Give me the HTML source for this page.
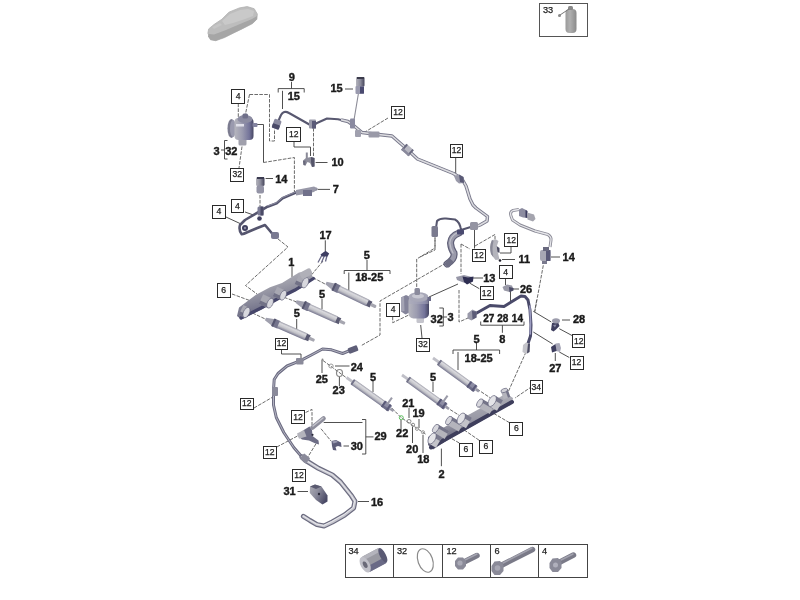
<!DOCTYPE html>
<html><head><meta charset="utf-8"><style>
html,body{margin:0;padding:0;background:#fff;}
svg{display:block;filter:blur(0.4px);}
.lb{font-family:"Liberation Sans",sans-serif;font-weight:bold;font-size:11px;fill:#1a1a1a;stroke:#1a1a1a;stroke-width:0.4;text-anchor:middle;}
.bt{font-family:"Liberation Sans",sans-serif;font-size:8.6px;fill:#222;stroke:#222;stroke-width:0.25;text-anchor:middle;}
.bx{fill:#fff;stroke:#2a2a2a;stroke-width:1;}
.ld{fill:none;stroke:#3c3c3c;stroke-width:0.9;}
.dl{fill:none;stroke:#5a5a5a;stroke-width:0.9;stroke-dasharray:3.6 1.3;}
</style></head><body>
<svg width="800" height="600" viewBox="0 0 800 600">
<defs>
 <linearGradient id="gcar" x1="0" y1="0" x2="0" y2="1">
  <stop offset="0" stop-color="#d2d2d2"/><stop offset="0.6" stop-color="#bdbdbd"/><stop offset="1" stop-color="#9a9a9a"/>
 </linearGradient>
 <linearGradient id="ginj" x1="0" y1="0" x2="0" y2="1">
  <stop offset="0" stop-color="#a0a0ac"/><stop offset="0.25" stop-color="#dadade"/><stop offset="0.6" stop-color="#c2c2c8"/><stop offset="1" stop-color="#76768e"/>
 </linearGradient>
 <linearGradient id="grail1" x1="0" y1="0" x2="0.4" y2="1">
  <stop offset="0" stop-color="#c4c4ca"/><stop offset="0.45" stop-color="#9c9ca8"/><stop offset="1" stop-color="#5a5a78"/>
 </linearGradient>
 <linearGradient id="grail2" x1="0" y1="0" x2="0.3" y2="1">
  <stop offset="0" stop-color="#c0c0c6"/><stop offset="0.55" stop-color="#9a9aa6"/><stop offset="1" stop-color="#4a4a66"/>
 </linearGradient>
 <linearGradient id="grail" x1="0" y1="0" x2="0" y2="1">
  <stop offset="0" stop-color="#b4b4b8"/><stop offset="0.5" stop-color="#8e8e98"/><stop offset="1" stop-color="#4e4e68"/>
 </linearGradient>
 <linearGradient id="gpump" x1="0" y1="0" x2="1" y2="0">
  <stop offset="0" stop-color="#9a9aa6"/><stop offset="0.4" stop-color="#b8b8c4"/><stop offset="1" stop-color="#5a5a80"/>
 </linearGradient>
 <linearGradient id="gcan" x1="0" y1="0" x2="1" y2="0">
  <stop offset="0" stop-color="#9a9a9a"/><stop offset="0.4" stop-color="#b0b0b0"/><stop offset="1" stop-color="#8a8a8a"/>
 </linearGradient>
</defs>
<!-- car -->
<path d="M207.9,33.2 L208.7,28.9 L214,24.5 L221.9,19.2 L228.9,12.2 L239.4,7.9 L247.2,6.6 L254.2,8.7 L257.3,14 L256.9,19.2 L252.5,23.6 L242,28.9 L233.2,33.2 L224.5,37.6 L215.7,40.7 L210.5,39.8 Z" fill="#bdbdbd" stroke="#b0b0b0" stroke-width="0.8" stroke-linejoin="round"/>
<path d="M208.5,34 L214,34.5 L226,30 L240,24 L252,19 L257,16 L256.9,19.2 L252.5,23.6 L242,28.9 L233.2,33.2 L224.5,37.6 L215.7,40.7 L210.5,39.8 L208,36.7 Z" fill="#a6a6a6"/>
<path d="M222,21 L230,14 L240,10 L248,9 L254,11 L253,16 L245,19 L233,23 L225,25 Z" fill="#c9c9c9"/>
<path d="M212,27 L220,23 L222,25 L214,29 Z" fill="#c6c6c6"/>
<!-- box 33 -->
<rect x="539.5" y="3.5" width="48" height="33" fill="#fff" stroke="#555" stroke-width="1"/>
<text x="543" y="12.6" style="font-family:'Liberation Sans',sans-serif;font-size:9.2px;fill:#222;stroke:#222;stroke-width:0.25">33</text>
<rect x="565.5" y="9" width="11" height="24" rx="4" fill="url(#gcan)"/>
<rect x="568" y="6" width="5" height="4" rx="1.5" fill="#888"/>
<path d="M569,9 L560,15" stroke="#777" stroke-width="1"/>
<circle cx="559.5" cy="15.5" r="1.5" fill="#888"/>
<!-- legend -->
<g fill="none" stroke="#444" stroke-width="1">
 <rect x="345.5" y="544.5" width="242" height="33"/>
 <line x1="393.5" y1="544.5" x2="393.5" y2="577.5"/>
 <line x1="442.5" y1="544.5" x2="442.5" y2="577.5"/>
 <line x1="490.5" y1="544.5" x2="490.5" y2="577.5"/>
 <line x1="538.5" y1="544.5" x2="538.5" y2="577.5"/>
</g>
<g style="font-family:'Liberation Sans',sans-serif;font-size:9.2px;fill:#222;stroke:#222;stroke-width:0.25">
 <text x="348.5" y="554">34</text><text x="397" y="554">32</text><text x="446.5" y="554">12</text><text x="494.5" y="554">6</text><text x="542" y="554">4</text>
</g>
<!-- legend items -->
<g transform="translate(374,560) rotate(-28)">
 <rect x="-10" y="-8.5" width="20" height="17" rx="2" fill="#9a9aa2"/>
 <rect x="-10" y="2.5" width="20" height="6" rx="1" fill="#6a6a86"/>
 <rect x="-10" y="-8.5" width="20" height="4" rx="1" fill="#b4b4bc"/>
 <ellipse cx="10" cy="0" rx="3" ry="8" fill="#5a5a74"/>
 <ellipse cx="-10" cy="0" rx="4.5" ry="8.5" fill="#c0c0c8"/>
 <ellipse cx="-10" cy="0" rx="2" ry="3.5" fill="#6a6a78"/>
</g>
<ellipse cx="425.3" cy="560.5" rx="7.3" ry="12.2" transform="rotate(-20 425.3 560.5)" fill="none" stroke="#8a8a8a" stroke-width="1.2"/>
<path d="M464,562 L477,555.5" stroke="#7a7a88" stroke-width="5.5" stroke-linecap="round"/>
<path d="M465,560 L477,554" stroke="#a4a4b0" stroke-width="1.5" stroke-linecap="round"/>
<polygon points="455,561 458,557.5 463,557.5 466,561 466,566 463,569.5 458,569.5 455,566" fill="#8a8a98"/>
<circle cx="460" cy="563" r="2.6" fill="#aaaab6"/>
<path d="M502,565 L532.5,549.5" stroke="#7a7a88" stroke-width="5.5" stroke-linecap="round"/>
<path d="M503,563 L532,548" stroke="#a2a2ae" stroke-width="1.5" stroke-linecap="round"/>
<polygon points="491.5,566 494.5,561.5 500,561 503.5,565 503.5,571 500,575 494.5,575 491.5,571" fill="#8a8a98"/>
<circle cx="497.5" cy="568" r="2.8" fill="#a8a8b4"/>
<path d="M560,562 L573.5,555" stroke="#7a7a88" stroke-width="5.5" stroke-linecap="round"/>
<path d="M561,560 L573,554" stroke="#a2a2ae" stroke-width="1.5" stroke-linecap="round"/>
<polygon points="549.5,563 552.5,558.5 558,558 561.5,562 561.5,568 558,572 552.5,572 549.5,568" fill="#8a8a98"/>
<circle cx="555.5" cy="565" r="2.5" fill="#b0b0bc"/>
<g class="ld">
<path d="M291.5,82 V88.6"/>
<path d="M278.2,92.5 V88.6 H304.2 V92.5"/>
<path d="M282.5,90.8 V109"/>
<path d="M227.5,140.5 H224.5 V159 H227.5"/>
<path d="M221,150 H224.5"/>
<path d="M257,124.5 H263.5 V162.5"/>
<path d="M294,141.5 V147 H310.5 V156"/>
<path d="M315.6,162.5 H327.5"/>
<path d="M265.6,178.5 H273"/>
<path d="M317.5,189.4 H330"/>
<path d="M345,89 H353"/>
<path d="M455.7,157.7 V175"/>
<path d="M226,217 L240,223.5"/>
<path d="M245,212 L253.5,215"/>
<path d="M292,266.5 V277"/>
<path d="M325.3,240.3 V251"/>
<path d="M367,260 V270.5"/>
<path d="M344.2,274 V270.5 H390 V274"/>
<path d="M348.8,272.5 V290"/>
<path d="M322,299 V309"/>
<path d="M296.7,319 V329"/>
<path d="M420.7,325 L422,338"/>
<path d="M439.3,308 H443.3 V326 H439.3"/>
<path d="M443.3,317 H447"/>
<path d="M429,297 L458,284"/>
<path d="M474.5,230 V248.5"/>
<path d="M511,247 V253 H500"/>
<path d="M502,259.5 H515"/>
<path d="M473,278 H483"/>
<path d="M470,283.3 L479.3,288.7"/>
<path d="M505.5,278.7 V285"/>
<path d="M513,289 H519"/>
<path d="M510.5,291 V302"/>
<path d="M551,257 H560"/>
<path d="M480.7,321.5 V325.2 H524 V321.5"/>
<path d="M502.4,325.2 V332.8"/>
<path d="M476.5,343 V350"/>
<path d="M453,354 V350 H499.6 V354"/>
<path d="M458,352 V370"/>
<path d="M533.3,311.3 L551.3,322"/>
<path d="M562,320 H570"/>
<path d="M559.3,328.7 L572,335.5"/>
<path d="M533.3,332 L552.7,344"/>
<path d="M559.3,352 L569.3,357.5"/>
<path d="M555.3,353 V361"/>
<path d="M335,366 H349.5"/>
<path d="M322,360 V373"/>
<path d="M339.4,376 V386"/>
<path d="M373,381 V392"/>
<path d="M433,382 V392"/>
<path d="M409,408 V418"/>
<path d="M419,419 V428"/>
<path d="M412.5,426.5 V443"/>
<path d="M423,435 V453"/>
<path d="M401,420 V430"/>
<path d="M441.4,466.2 V448.6"/>
<path d="M323.7,422.5 H362.5"/>
<path d="M362,419.5 H365.8 V454 H362"/>
<path d="M365.8,436.9 H373.5"/>
<path d="M343.5,446 H349"/>
<path d="M297.5,491.5 H308"/>
<path d="M358,501.5 H369"/>
<path d="M281.5,350 V354 H301 V360"/>
</g>
<g class="dl">
<path d="M249.5,94.5 H269.5 V141 H274.5 V129"/>
<path d="M249.5,94.5 L245.5,114"/>
<path d="M238.3,103.5 V122"/>
<path d="M263.5,162.5 L294.4,157.5 V192"/>
<path d="M242,146.5 L239,168"/>
<path d="M313.5,128 V156"/>
<path d="M388,118 L365,132"/>
<path d="M260,195 V209"/>
<path d="M278,239 L288,247 L245.5,285.5 L257,294"/>
<path d="M232,294 L251,301"/>
<path d="M323,261 L311.7,274.7"/>
<path d="M313,277.7 L326,284.5"/>
<path d="M279.5,295.7 L296,301.7"/>
<path d="M252.5,313 L266.7,319.7"/>
<path d="M435,238 V250 L420,257"/>
<path d="M435,230 V248 L416.7,259 V287"/>
<path d="M446,263 L380,301 V335 L360.7,345.9"/>
<path d="M392.7,316.7 V322.7 L413,313"/>
<path d="M459,290 V322 L468,318"/>
<path d="M461,244 V274"/>
<path d="M461,244 L470,249"/>
<path d="M475,246 L495,234.5 V240"/>
<path d="M543.3,265.3 L534.7,312"/>
<path d="M536.7,300 L534.7,311.3"/>
<path d="M526,352 L505,399"/>
<path d="M305.6,412.5 L312,409.4 V425"/>
<path d="M321,428.75 L331,441"/>
<path d="M316,443.75 L306,460"/>
<path d="M276.8,447 L297.5,436"/>
<path d="M254,408 L272,397.5"/>
<path d="M540,381 L515,398"/>
<path d="M385,401 L401,417.5 L426.4,434.7"/>
<path d="M323,360.5 L346,377.5"/>
<path d="M477,389 L490.5,398"/>
<path d="M446,407 L459,415.2"/>
<path d="M459.3,443 L450,437.7"/>
<path d="M479.2,440.3 L463.5,429.5"/>
<path d="M509.5,422.7 L490.5,411.5"/>
</g><!-- ===== PIPES ===== -->
<!-- main upper fuel line -->
<path d="M277,124 L281,115 Q284,110 289,113 L312,126 L317,123 L327,118.5 L338,119.2 L348,121.5 L353,125 L362,132.5 L374,134 L392,136 L404,146.5 L417.5,159 L453.5,173.5 L462,179 L466,186 L470,199 L473,205 L476,208 L487.5,216.5 L487,221 L480,225 L476,226.5" fill="none" stroke="#585870" stroke-width="2.1" stroke-linejoin="round"/>
<path d="M341,119.8 L348,121.5 L353,125 L362,132.5 L374,134 L392,136 L404,146.5 L417.5,159 L453.5,173.5 L462,179 L466,186 L470,199 L473,205 L476,208 L487.5,216.5 L487,221 L480,225 L476,226.5" fill="none" stroke="#7c7c8e" stroke-width="3.4" stroke-linejoin="round"/>
<path d="M341,119.8 L348,121.5 L353,125 L362,132.5 L374,134 L392,136 L404,146.5 L417.5,159 L453.5,173.5 L462,179 L466,186 L470,199 L473,205 L476,208 L487.5,216.5 L487,221 L480,225 L476,226.5" fill="none" stroke="#dcdce0" stroke-width="1.5" stroke-linejoin="round"/>
<!-- left pipe 7 / 4 -->
<path d="M317,189 L296,192.5 L290,195 L282.5,198.3 L276.7,203.3 L267.5,206.7 L263.3,209.2 L255,214.2 L245,220 L240,225 Q238.5,230 241.7,234.2 Q244,234 246.7,232.5 L256.7,228.3 L265,225 L269.2,230 L273.3,235" fill="none" stroke="#55556e" stroke-width="2.6" stroke-linejoin="round"/>
<path d="M316,188.3 L296,191.8 L290,194.3 L282.5,197.6 L276.7,202.6 L267.5,206" fill="none" stroke="#9a9aae" stroke-width="0.8"/>
<circle cx="245" cy="228" r="3" fill="#3e3e5e"/>
<circle cx="245" cy="228" r="1.2" fill="#8a8aa0"/>
<circle cx="259.5" cy="218.5" r="2.3" fill="#3e3e5e"/>
<!-- lower-left return line 16 -->
<path d="M352,349.7 L342.6,353.5 L331.5,349.8 L322.5,349 L311.3,355 L300.5,360.7 L287,366 L278,373.5 L274.2,379.5 L273.5,390 L273.5,405 L276.3,417.5 L283.8,432.5 L293.8,447.5 L302,457" fill="none" stroke="#6c6c82" stroke-width="3" stroke-linejoin="round"/>
<path d="M352,349.7 L342.6,353.5 L331.5,349.8 L322.5,349 L311.3,355 L300.5,360.7 L287,366 L278,373.5 L274.2,379.5 L273.5,390 L273.5,405 L276.3,417.5 L283.8,432.5 L293.8,447.5 L302,457" fill="none" stroke="#b4b4c2" stroke-width="1" stroke-linejoin="round"/>
<path d="M302,457 L305,460 L318.5,468.3 L332.3,475 L340.5,482 L351.5,495.8 L355,501.3 L353.6,508 L344.6,515 L332.3,522 L324,526 L317,524.6 L310,520.5 L303.4,516.4" fill="none" stroke="#6c6c80" stroke-width="5" stroke-linejoin="round" stroke-linecap="round"/>
<path d="M302,457 L305,460 L318.5,468.3 L332.3,475 L340.5,482 L351.5,495.8 L355,501.3 L353.6,508 L344.6,515 L332.3,522 L324,526 L317,524.6 L310,520.5 L303.4,516.4" fill="none" stroke="#c6c6ce" stroke-width="2.6" stroke-linejoin="round" stroke-linecap="round"/>
<path d="M302,457 L305,460 L318.5,468.3 L332.3,475 L340.5,482 L351.5,495.8 L355,501.3 L353.6,508 L344.6,515 L332.3,522 L324,526 L317,524.6 L310,520.5 L303.4,516.4" fill="none" stroke="#ececf0" stroke-width="0.9" stroke-linejoin="round" transform="translate(-0.4,-0.5)"/>
<!-- right hose 8 -->
<path d="M472,316 L475,314 L482,310 L490,305.5 L504,306.5 L512,301.5 L521,296 L525,296.5 L528,300 L530,310 L531,325 L530.5,336 L527.5,345" fill="none" stroke="#4a4a6a" stroke-width="3" stroke-linejoin="round"/>
<path d="M529.8,306 L530.6,322 L530.2,334" fill="none" stroke="#9c9cc0" stroke-width="1.6" stroke-linecap="round"/>
<!-- right hose 14 (light) -->
<path d="M519,209.5 L513,210.5 Q509.5,212 511,216 L512.5,220 L520,225 L527.5,228 L535,231 L548,234.5 Q551.5,237 551,240 L550,247" fill="none" stroke="#8a8a96" stroke-width="3" stroke-linejoin="round"/>
<path d="M519,209.5 L513,210.5 Q509.5,212 511,216 L512.5,220 L520,225 L527.5,228 L535,231 L548,234.5 Q551.5,237 551,240 L550,247" fill="none" stroke="#e6e6ea" stroke-width="1.3" stroke-linejoin="round"/>
<!-- dark hose at 436-475, 218-235 -->
<path d="M436,228 L437,221 Q440,218 446,218.5 L455,219.5 Q460,222 461,230 L474,226" fill="none" stroke="#56566e" stroke-width="2" stroke-linejoin="round"/>
<!-- wide curved grey hose -->
<path d="M459,233 Q451,236 450.5,243 Q451,249 454,253 Q455,259 447,264" fill="none" stroke="#5e5e76" stroke-width="7" stroke-linecap="round"/>
<path d="M459,233 Q451,236 450.5,243 Q451,249 454,253 Q455,259 447,264" fill="none" stroke="#9a9aaa" stroke-width="4.6" stroke-linecap="round"/>
<path d="M458,232.5 Q450.5,235.5 449.8,243 Q450.5,249 453,253" fill="none" stroke="#c0c0ca" stroke-width="1.3" stroke-linecap="round"/>
<g transform="translate(326,283) rotate(25.6)"><path d="M0,-1.5 L9,-3.6 L9,3.6 L0,1.5 Z" fill="#a0a0ae"/><rect x="8" y="-4.1" width="7" height="8.2" rx="1.2" fill="#74748c"/><rect x="8" y="-4.1" width="2" height="8.2" fill="#55556e"/><rect x="14" y="-3.6" width="32.46169849544819" height="7.2" fill="url(#ginj)"/><rect x="45.96169849544819" y="-3.24" width="4" height="6.48" fill="#5a5a72"/><rect x="49.46169849544819" y="-1.6" width="6" height="3.2" rx="1" fill="#a6a6b0"/></g>
<g transform="translate(296,301.5) rotate(24.2)"><path d="M0,-1.5 L9,-3.6 L9,3.6 L0,1.5 Z" fill="#a0a0ae"/><rect x="8" y="-4.1" width="7" height="8.2" rx="1.2" fill="#74748c"/><rect x="8" y="-4.1" width="2" height="8.2" fill="#55556e"/><rect x="14" y="-3.6" width="30.712196007983138" height="7.2" fill="url(#ginj)"/><rect x="44.21219600798314" y="-3.24" width="4" height="6.48" fill="#5a5a72"/><rect x="47.71219600798314" y="-1.6" width="6" height="3.2" rx="1" fill="#a6a6b0"/></g>
<g transform="translate(265.5,319) rotate(23.7)"><path d="M0,-1.5 L9,-3.6 L9,3.6 L0,1.5 Z" fill="#a0a0ae"/><rect x="8" y="-4.1" width="7" height="8.2" rx="1.2" fill="#74748c"/><rect x="8" y="-4.1" width="2" height="8.2" fill="#55556e"/><rect x="14" y="-3.6" width="30.50934497823721" height="7.2" fill="url(#ginj)"/><rect x="44.00934497823721" y="-3.24" width="4" height="6.48" fill="#5a5a72"/><rect x="47.50934497823721" y="-1.6" width="6" height="3.2" rx="1" fill="#a6a6b0"/></g>
<g transform="translate(433,358) rotate(36.1)"><rect x="0" y="-1.4" width="8" height="2.8" fill="#c0c0c8"/><rect x="7" y="-3.2" width="2.5" height="6.4" rx="0.8" fill="#74748a"/><rect x="9" y="-3.2" width="34.90562362368064" height="6.4" fill="url(#ginj)"/><rect x="43.90562362368064" y="-3.6" width="9" height="7.2" rx="1" fill="#8c8ca4"/><rect x="43.90562362368064" y="-3.6" width="2" height="7.2" fill="#5a5a78"/><rect x="49.90562362368064" y="-3.6" width="2" height="7.2" fill="#5a5a78"/><rect x="43.90562362368064" y="0.96" width="9" height="2.5600000000000005" fill="#5a5a78" opacity="0.6"/><rect x="52.90562362368064" y="-1.3" width="4" height="2.6" fill="#9a9aa8"/></g>
<g transform="translate(402,375) rotate(35.9)"><rect x="0" y="-1.4" width="8" height="2.8" fill="#c0c0c8"/><rect x="7" y="-3.2" width="2.5" height="6.4" rx="0.8" fill="#74748a"/><rect x="9" y="-3.2" width="36.008620049092706" height="6.4" fill="url(#ginj)"/><rect x="45.008620049092706" y="-3.6" width="9" height="7.2" rx="1" fill="#8c8ca4"/><rect x="45.008620049092706" y="-3.6" width="2" height="7.2" fill="#5a5a78"/><rect x="51.008620049092706" y="-3.6" width="2" height="7.2" fill="#5a5a78"/><rect x="45.008620049092706" y="0.96" width="9" height="2.5600000000000005" fill="#5a5a78" opacity="0.6"/><rect x="54.008620049092706" y="-1.3" width="4" height="2.6" fill="#9a9aa8"/><rect x="48.008620049092706" y="-10" width="2" height="8" fill="#9a9aa8"/></g>
<g transform="translate(346.5,377.5) rotate(35.5)"><rect x="0" y="-1.4" width="8" height="2.8" fill="#c0c0c8"/><rect x="7" y="-3.2" width="2.5" height="6.4" rx="0.8" fill="#74748a"/><rect x="9" y="-3.2" width="35.716981903075975" height="6.4" fill="url(#ginj)"/><rect x="44.716981903075975" y="-3.6" width="9" height="7.2" rx="1" fill="#8c8ca4"/><rect x="44.716981903075975" y="-3.6" width="2" height="7.2" fill="#5a5a78"/><rect x="50.716981903075975" y="-3.6" width="2" height="7.2" fill="#5a5a78"/><rect x="44.716981903075975" y="0.96" width="9" height="2.5600000000000005" fill="#5a5a78" opacity="0.6"/><rect x="53.716981903075975" y="-1.3" width="4" height="2.6" fill="#9a9aa8"/><rect x="47.716981903075975" y="-10" width="2" height="8" fill="#9a9aa8"/></g>
<polygon points="239,307.5 256,294.8 270,287.3 282,283 299,272.4 309.5,271 314,278.8 305,286.3 294.5,291.6 279.6,299 261.6,309.6 241.4,319.5 237,316" fill="url(#grail1)"/>
<path d="M241,318 L261,308 L280,297.5 L295,290 L313.5,278.5" stroke="#46466a" stroke-width="3.2" fill="none" stroke-linecap="round"/>
<g transform="translate(241,310) rotate(25)"><rect x="0" y="-5.5" width="6" height="11.0" fill="#a8a8b2"/><rect x="0" y="1.65" width="6" height="3.8499999999999996" fill="#5a5a74" opacity="0.7"/><ellipse cx="6" cy="0" rx="3.0250000000000004" ry="5.5" fill="#d8d8de" stroke="#5a5a74" stroke-width="0.6"/></g>
<g transform="translate(261,299) rotate(25)"><rect x="0" y="-5.2" width="10" height="10.4" fill="#a8a8b2"/><rect x="0" y="1.56" width="10" height="3.6399999999999997" fill="#5a5a74" opacity="0.7"/><ellipse cx="10" cy="0" rx="2.8600000000000003" ry="5.2" fill="#d8d8de" stroke="#5a5a74" stroke-width="0.6"/></g>
<g transform="translate(275,291.5) rotate(25)"><rect x="0" y="-5.2" width="9" height="10.4" fill="#a8a8b2"/><rect x="0" y="1.56" width="9" height="3.6399999999999997" fill="#5a5a74" opacity="0.7"/><ellipse cx="9" cy="0" rx="2.8600000000000003" ry="5.2" fill="#d8d8de" stroke="#5a5a74" stroke-width="0.6"/></g>
<g transform="translate(297,279) rotate(25)"><rect x="0" y="-5.5" width="9" height="11.0" fill="#a8a8b2"/><rect x="0" y="1.65" width="9" height="3.8499999999999996" fill="#5a5a74" opacity="0.7"/><ellipse cx="9" cy="0" rx="3.0250000000000004" ry="5.5" fill="#d8d8de" stroke="#5a5a74" stroke-width="0.6"/></g>
<rect x="300" y="270" width="12" height="7" rx="2" fill="#b0b0b8" transform="rotate(-28 306 273.5)"/>
<polygon points="428,437 448,425 470,414 490,403 506,393.5 513,398 512,403 490,416 470,427.5 450,438.5 433,449.5 428,445" fill="url(#grail2)"/>
<path d="M431,447.5 L512,402" stroke="#3e3e5c" stroke-width="4" stroke-linecap="round"/>
<g transform="translate(447,435) rotate(-150)"><rect x="0" y="-4.6" width="13" height="9.2" fill="#b4b4bc"/><rect x="0" y="1.38" width="13" height="3.2199999999999998" fill="#5a5a74" opacity="0.7"/><ellipse cx="13" cy="0" rx="2.53" ry="4.6" fill="#d8d8de" stroke="#5a5a74" stroke-width="0.6"/></g>
<g transform="translate(439,442.5) rotate(-150)"><rect x="0" y="-6" width="8" height="12" fill="#c4c4ca"/><rect x="0" y="1.7999999999999998" width="8" height="4.199999999999999" fill="#5a5a74" opacity="0.7"/><ellipse cx="8" cy="0" rx="3.3000000000000003" ry="6" fill="#e4e4e8" stroke="#5a5a74" stroke-width="0.6"/></g>
<g transform="translate(461,427.5) rotate(-150)"><rect x="0" y="-4.6" width="14" height="9.2" fill="#b4b4bc"/><rect x="0" y="1.38" width="14" height="3.2199999999999998" fill="#5a5a74" opacity="0.7"/><ellipse cx="14" cy="0" rx="2.53" ry="4.6" fill="#d8d8de" stroke="#5a5a74" stroke-width="0.6"/></g>
<g transform="translate(469,423) rotate(-150)"><rect x="0" y="-6" width="9" height="12" fill="#c4c4ca"/><rect x="0" y="1.7999999999999998" width="9" height="4.199999999999999" fill="#5a5a74" opacity="0.7"/><ellipse cx="9" cy="0" rx="3.3000000000000003" ry="6" fill="#e4e4e8" stroke="#5a5a74" stroke-width="0.6"/></g>
<g transform="translate(492,410) rotate(-150)"><rect x="0" y="-4.6" width="14" height="9.2" fill="#b4b4bc"/><rect x="0" y="1.38" width="14" height="3.2199999999999998" fill="#5a5a74" opacity="0.7"/><ellipse cx="14" cy="0" rx="2.53" ry="4.6" fill="#d8d8de" stroke="#5a5a74" stroke-width="0.6"/></g>
<g transform="translate(500,405.5) rotate(-150)"><rect x="0" y="-6" width="9" height="12" fill="#c4c4ca"/><rect x="0" y="1.7999999999999998" width="9" height="4.199999999999999" fill="#5a5a74" opacity="0.7"/><ellipse cx="9" cy="0" rx="3.3000000000000003" ry="6" fill="#e4e4e8" stroke="#5a5a74" stroke-width="0.6"/></g>
<g transform="translate(507,398) rotate(-110)"><rect x="0" y="-3.5" width="8" height="7.0" fill="#b4b4bc"/><rect x="0" y="1.05" width="8" height="2.4499999999999997" fill="#5a5a74" opacity="0.7"/><ellipse cx="8" cy="0" rx="1.9250000000000003" ry="3.5" fill="#d0d0d6" stroke="#5a5a74" stroke-width="0.6"/></g><defs>
 <linearGradient id="gp1" x1="0" y1="0" x2="1" y2="0">
  <stop offset="0" stop-color="#b6b6be"/><stop offset="0.4" stop-color="#9c9cb0"/><stop offset="0.78" stop-color="#74749a"/><stop offset="1" stop-color="#464662"/>
 </linearGradient>
 <linearGradient id="gsens" x1="0" y1="0" x2="1" y2="0">
  <stop offset="0" stop-color="#b4b4bc"/><stop offset="0.5" stop-color="#8e8e9e"/><stop offset="1" stop-color="#44445a"/>
 </linearGradient>
 <linearGradient id="gclip" x1="0" y1="0" x2="1" y2="1">
  <stop offset="0" stop-color="#9a9aaa"/><stop offset="1" stop-color="#3a3a5a"/>
 </linearGradient>
</defs>
<!-- pump 1 (top-left) -->
<g>
 <ellipse cx="231.5" cy="128.5" rx="4" ry="9.5" fill="#7c7c90"/>
 <ellipse cx="233" cy="128.5" rx="3" ry="8.5" fill="#9a9aae"/>
 <rect x="238.5" y="137" width="8" height="8.5" rx="1.5" fill="#a0a0ac"/>
 <rect x="234.5" y="118" width="19" height="22" rx="4" fill="url(#gp1)"/>
 <ellipse cx="245" cy="119" rx="7.5" ry="4" fill="#8c8ca2"/>
 <rect x="242.5" y="113.5" width="5.5" height="5" rx="1.5" fill="#70708a"/>
 <rect x="236" y="124" width="8" height="2.5" fill="#e0e0ea"/>
 <rect x="252.5" y="123" width="5" height="4" rx="1" fill="#8484a0"/>
</g>
<!-- pump 2 (center) -->
<g>
 <path d="M401,297.5 L406,295 L410.5,297 L410.5,312 L405.5,314.5 L401,311.5 Z" fill="#84849a"/>
 <path d="M401,297.5 L404,296 L404.5,311 L401,311.5 Z" fill="#a4a4b4"/>
 <rect x="416.5" y="317" width="7.5" height="6" rx="1.5" fill="#c4c4cc"/>
 <rect x="408.5" y="296" width="20.5" height="22.5" rx="5" fill="url(#gp1)"/>
 <rect x="409" y="298" width="19.5" height="6" fill="#a8a8bc" opacity="0.55"/>
 <ellipse cx="418.5" cy="297" rx="10" ry="4.8" fill="#a8a8b8"/>
 <ellipse cx="418" cy="296" rx="6" ry="2.5" fill="#c8c8d2"/>
 <rect x="414.5" y="288" width="5.5" height="7" rx="1.5" fill="#8a8a9c"/>
 <rect x="427.5" y="297" width="3.5" height="4" fill="#6a6a88"/>
</g>
<!-- sensor 15 -->
<path d="M358.5,93 L354,120" stroke="#8a8a96" stroke-width="1.1" fill="none"/>
<g>
 <rect x="356" y="77" width="8.5" height="9.5" rx="1" fill="url(#gsens)"/>
 <rect x="355.5" y="86" width="8.5" height="8" rx="1" fill="#9a9aae"/>
 <rect x="360" y="86.5" width="4" height="7" fill="#4a4a70"/>
 <rect x="357" y="77" width="7" height="2" fill="#3a3a4a"/>
</g>
<!-- sensor 14 left -->
<g>
 <rect x="256" y="177" width="8.5" height="9" rx="1.5" fill="url(#gsens)"/>
 <rect x="256.5" y="185.5" width="7.5" height="8" rx="2" fill="#9494a6"/>
 <rect x="257" y="177" width="7" height="2" fill="#3a3a50"/>
</g>
<!-- sensor 14 right -->
<g>
 <rect x="540" y="250" width="10.5" height="11" rx="2" fill="#a8a8b4"/>
 <rect x="546" y="250" width="4.5" height="11" fill="#5a5a78"/>
 <rect x="543" y="247" width="6" height="4" fill="#6a6a80"/>
 <rect x="542" y="261" width="5" height="3" fill="#7a7a8e"/>
</g>
<!-- part 10 clip -->
<rect x="305.8" y="152.5" width="2" height="8" fill="#8a8a98"/>
<path d="M303,160.5 L306,158 L311,157 L314.5,158 L314.5,166.5 L312,167 L310,163 L307.5,162 L305.5,165.5 L303.5,165 Z" fill="#8e8e9c"/>
<path d="M311,157 L314.5,158 L314.5,166.5 L312,167 L311,162 Z" fill="#55556a"/>
<path d="M303,161 L305.5,160.5 L305.5,165.5 L303.5,165 Z" fill="#6a6a7c"/>
<!-- part 7 connector -->
<path d="M296,190 L314,186.5 L318,188.5 L314,192 L305,194 L296,195.5 Z" fill="#9898a8"/>
<rect x="303" y="190" width="9" height="6" fill="#70708a"/>
<!-- part 17 -->
<path d="M322,255 L318,262.5 M324.5,255.5 L321.5,262.5 M327,255.5 L325.5,261.5" stroke="#6a6a88" stroke-width="1.3" fill="none"/>
<path d="M320.5,254.5 L325.5,250.8 L329.2,253.5 L327.5,256.5 L322,256.5 Z" fill="#3e3e62"/>
<!-- part 11 bracket -->
<path d="M492,240 Q489,246 491,254 L495.5,260 L499.5,259.5 L498,253 L496.5,247 L498.5,241 L496,239.5 Z" fill="#b4b4bc"/>
<path d="M492,240 Q489,246 491,254 L493.5,257.5 Q491.5,249 493.5,241 Z" fill="#8a8a98"/>
<path d="M496.5,246 L499.5,248 L499.5,253 L497.5,252 Z" fill="#4a4a60"/>
<circle cx="500" cy="260.5" r="1.3" fill="#1e1e2a"/>
<!-- part 13 clip -->
<path d="M456,277 L464,275 L472,277 L473,281 L467,283.5 L462,282 L457,280 Z" fill="#9898a8"/>
<path d="M462.5,276.5 L468,277.5 L473.5,276.5 L473,281.5 L467,284.5 L464,282 Z" fill="#2e2e52"/>
<!-- part 26 -->
<path d="M502.5,287 L507,284.5 L512,285.5 L513.5,289.5 L509.5,292 L504,290.5 Z" fill="#9a9aa8"/><path d="M509,287 L513.5,288 L513.5,290.5 L509.5,292.3 Z" fill="#4a4a66"/>
<!-- part 28 -->
<path d="M552,323 L558,322 L559.5,326 L556,329.5 L553.5,331.5 L551,330 Z" fill="#3e3e5e"/>
<ellipse cx="556" cy="320.8" rx="4" ry="2.6" fill="#9c9cac"/>
<path d="M553,325 L556.5,324.5 L555,327.5 Z" fill="#8a8aa4"/>
<!-- part 27 -->
<path d="M555.5,343.5 L559.5,343 L561,348 L560,352 L556,351 Z" fill="#a8a8b8"/>
<path d="M551,347 L555.5,344 L556.5,351 L552,352.5 Z" fill="#3e3e5e"/>
<!-- part 29 bracket -->
<path d="M297.5,435.5 L303,430.5 L309.5,426.5 L312,430 L312.5,436 L318.5,440.5 L319,444.5 L315.5,443.5 L309,440.5 L302,439.5 Z" fill="#6e6e86"/>
<path d="M297,433.5 L304,430 L306.5,436.5 L299,438.8 Z" fill="#b4b4bc"/>
<path d="M312.5,427.5 L323.5,418.5" stroke="#8e8e9c" stroke-width="4.6" stroke-linecap="round"/>
<path d="M313,426 L323,418" stroke="#c4c4cc" stroke-width="1.5" stroke-linecap="round"/>
<circle cx="312.5" cy="434.8" r="1.1" fill="#2a2a3a"/>
<!-- part 30 -->
<path d="M331.5,441 L336,440 L341,442.5 L341.5,447 L338,446 L335.5,447 L336.5,450.5 L333,450 L332,446 Z" fill="#5e5e7a"/>
<path d="M332,441.5 L336,440.5 L338,442 L333.5,443.5 Z" fill="#9a9ab0"/>
<!-- part 31 -->
<defs><linearGradient id="g31" x1="0" y1="0" x2="1" y2="0.6"><stop offset="0" stop-color="#b0b0b8"/><stop offset="0.5" stop-color="#8a8a9a"/><stop offset="1" stop-color="#4a4a66"/></linearGradient></defs>
<path d="M310,486.5 L315,484.5 L321.5,486.5 L327.5,495.5 L327.5,501.5 L322.5,504.5 L316,500 L309.8,493 Z" fill="url(#g31)"/>
<path d="M310,486.5 L315,484.5 L321.5,486.5 L316,489 Z" fill="#5a5a70"/>
<circle cx="319" cy="494" r="1.2" fill="#2a2a3a"/>
<!-- small rings -->
<circle cx="322.5" cy="359.5" r="1" fill="#888"/>
<ellipse cx="331" cy="366" rx="2.2" ry="2" fill="none" stroke="#9a9a9a" stroke-width="1"/>
<ellipse cx="339.5" cy="373" rx="3" ry="3.5" fill="none" stroke="#8a8a8a" stroke-width="1.2"/>
<ellipse cx="401.3" cy="417.7" rx="2" ry="2" fill="none" stroke="#5cbf5c" stroke-width="1"/>
<ellipse cx="409" cy="421.3" rx="2" ry="1.8" fill="none" stroke="#8a8a8a" stroke-width="1"/>
<ellipse cx="413" cy="424.8" rx="1.6" ry="1.6" fill="none" stroke="#8a8a8a" stroke-width="1"/>
<ellipse cx="417" cy="428.8" rx="1.6" ry="1.6" fill="none" stroke="#9a9a9a" stroke-width="1"/>
<ellipse cx="423" cy="432.3" rx="1.6" ry="1.6" fill="none" stroke="#9a9a9a" stroke-width="1"/>
<!-- pipe connectors / clamps -->
<g fill="#6e6e88">
 <rect x="273" y="119.5" width="7.5" height="9.5" rx="1.5" transform="rotate(20 277 124)" fill="#8a8aa0"/><rect x="273" y="124.5" width="7.5" height="4.5" rx="1" transform="rotate(20 277 124)" fill="#4a4a68"/>
 <rect x="309" y="119.5" width="7" height="9" rx="1" fill="#9a9aaa"/><rect x="312" y="121" width="4" height="7.5" fill="#5a5a78"/>
 <rect x="350" y="118.5" width="5" height="10" rx="1" fill="#8a8aa0"/>
 <rect x="355" y="130" width="6" height="7" rx="1" fill="#a0a0ae"/>
 <rect x="368.5" y="131.5" width="11" height="6" rx="1" fill="#9a9aa8"/>
 <g transform="translate(407.5,150) rotate(42)"><rect x="-5" y="-4" width="10" height="8" rx="1.5" fill="#b8b8c2"/><rect x="-5" y="-4" width="2" height="8" fill="#6a6a80"/><rect x="3" y="-4" width="2" height="8" fill="#6a6a80"/><rect x="-5" y="1.5" width="10" height="2.5" fill="#8a8a9c"/></g>
 <path d="M454,176 L459,174.5 L463.5,177 L464,183 L459,183.5 L456,181 Z" fill="#9a9aaa"/><path d="M459,174.5 L463.5,177 L464,183 L460,182 Z" fill="#5a5a76"/>
 <rect x="470" y="222" width="8" height="8" rx="1.5" fill="#9494a2"/>
 <rect x="431.5" y="226" width="6.5" height="11" rx="1.5" fill="#7a7a8e"/>
 <rect x="457" y="229.5" width="7" height="5" rx="1" fill="#4a4a70"/>
 <path d="M467.5,313.5 L472.5,309.5 L476.5,311.5 L476.5,317.5 L471.5,320.5 L467.5,318.5 Z" fill="#9a9aaa"/><path d="M472,311 L476.5,311.5 L476.5,317.5 L472.5,319.5 Z" fill="#5c5c78"/>
 <path d="M523,345 L526,342.5 L530,343.5 L529.5,352 L526,354 L522.5,352 Z" fill="#c4c4ca"/><path d="M528,343.5 L530,343.5 L529.5,352 L527,353.5 Z" fill="#4a4a62"/>
 <path d="M519,209.5 L522,208 L527,210.5 L527.5,218 L523,217.5 L519,216 Z" fill="#8c8ca0"/><path d="M525.5,210 L527.5,211 L527.5,218 L525.5,217.5 Z" fill="#3a3a5e"/><path d="M527,212.5 L534,214.5 L535.5,219 L533,221.5 L527.5,219.5 Z" fill="#a4a4ae"/>
 <rect x="257.5" y="206.5" width="6" height="9" rx="1.5" fill="#7a7a94"/><rect x="260.5" y="206.5" width="3" height="9" fill="#4a4a66"/>
 <rect x="271" y="232" width="8" height="7" rx="2" fill="#7a7a92"/>
 <rect x="348" y="346.5" width="10" height="6" rx="1.5" fill="#5e5e78" transform="rotate(-20 353 349.5)"/>
 <rect x="296" y="358" width="7.5" height="6.5" rx="1" fill="#8a8a9a"/>
 <rect x="272" y="387" width="6" height="9" rx="1" fill="#8a8a9a"/>
 <rect x="301" y="455" width="8" height="7" rx="1" fill="#8a8a9a" transform="rotate(40 305 458.5)"/>
 <rect x="446" y="259" width="6" height="8" rx="1.5" fill="#6e6e84" transform="rotate(40 449 263)"/>
</g>

<rect x="231.5" y="89.5" width="13" height="14" class="bx"/>
<text x="238.20" y="98.65" class="bt">4</text>
<rect x="286.5" y="127.5" width="14" height="14" class="bx"/>
<text x="293.75" y="136.65" class="bt">12</text>
<rect x="391.5" y="106.5" width="13" height="12" class="bx"/>
<text x="397.93" y="115.10" class="bt">12</text>
<rect x="450.5" y="144.5" width="12" height="13" class="bx"/>
<text x="456.50" y="153.18" class="bt">12</text>
<rect x="230.5" y="168.5" width="13" height="13" class="bx"/>
<text x="237.25" y="177.15" class="bt">32</text>
<rect x="231.5" y="199.5" width="12" height="13" class="bx"/>
<text x="237.50" y="208.60" class="bt">4</text>
<rect x="212.5" y="205.5" width="13" height="13" class="bx"/>
<text x="219.00" y="214.28" class="bt">4</text>
<rect x="217.5" y="283.5" width="13" height="14" class="bx"/>
<text x="223.75" y="292.70" class="bt">6</text>
<rect x="504.5" y="233.5" width="13" height="13" class="bx"/>
<text x="511.20" y="242.53" class="bt">12</text>
<rect x="472.5" y="249.5" width="13" height="12" class="bx"/>
<text x="479.07" y="258.02" class="bt">12</text>
<rect x="499.5" y="265.5" width="13" height="13" class="bx"/>
<text x="505.60" y="274.50" class="bt">4</text>
<rect x="480.5" y="286.5" width="13" height="13" class="bx"/>
<text x="486.65" y="295.80" class="bt">12</text>
<rect x="386.5" y="303.5" width="13" height="13" class="bx"/>
<text x="393.20" y="312.40" class="bt">4</text>
<rect x="416.5" y="338.5" width="13" height="13" class="bx"/>
<text x="422.95" y="347.25" class="bt">32</text>
<rect x="572.5" y="334.5" width="12" height="13" class="bx"/>
<text x="578.70" y="343.60" class="bt">12</text>
<rect x="570.5" y="356.5" width="13" height="13" class="bx"/>
<text x="576.60" y="365.00" class="bt">12</text>
<rect x="275.5" y="338.5" width="12" height="11" class="bx"/>
<text x="281.50" y="346.30" class="bt">12</text>
<rect x="530.5" y="380.5" width="12" height="13" class="bx"/>
<text x="536.30" y="389.60" class="bt">34</text>
<rect x="240.5" y="398.5" width="13" height="11" class="bx"/>
<text x="246.88" y="406.40" class="bt">12</text>
<rect x="291.5" y="410.5" width="13" height="13" class="bx"/>
<text x="298.00" y="419.52" class="bt">12</text>
<rect x="509.5" y="422.5" width="13" height="13" class="bx"/>
<text x="516.40" y="431.40" class="bt">6</text>
<rect x="479.5" y="440.5" width="13" height="13" class="bx"/>
<text x="486.00" y="449.40" class="bt">6</text>
<rect x="459.5" y="443.5" width="13" height="13" class="bx"/>
<text x="466.00" y="452.10" class="bt">6</text>
<rect x="263.5" y="446.5" width="13" height="12" class="bx"/>
<text x="269.88" y="454.77" class="bt">12</text>
<rect x="292.5" y="469.5" width="13" height="12" class="bx"/>
<text x="299.12" y="477.77" class="bt">12</text>
<text x="291.75" y="80.9" class="lb">9</text>
<text x="293.75" y="99.5" class="lb">15</text>
<text x="336.55" y="92.2" class="lb">15</text>
<text x="216.5" y="155.2" class="lb">3</text>
<text x="231.25" y="155.4" class="lb">32</text>
<text x="337.5" y="166.2" class="lb">10</text>
<text x="281.3" y="183.1" class="lb">14</text>
<text x="335.75" y="192.7" class="lb">7</text>
<text x="325.5" y="239.1" class="lb">17</text>
<text x="291.3" y="265.8" class="lb">1</text>
<text x="366.8" y="259.4" class="lb">5</text>
<text x="369.25" y="281.1" class="lb">18-25</text>
<text x="322.1" y="297.9" class="lb">5</text>
<text x="296.9" y="317.4" class="lb">5</text>
<text x="524.3" y="262.9" class="lb">11</text>
<text x="568.65" y="261.2" class="lb">14</text>
<text x="489.35" y="281.6" class="lb">13</text>
<text x="526" y="292.9" class="lb">26</text>
<text x="579" y="322.9" class="lb">28</text>
<text x="450.5" y="320.8" class="lb">3</text>
<text x="436.65" y="323.3" class="lb">32</text>
<text x="488.7" y="322.3" class="lb" style="font-size:10px">27</text>
<text x="502.75" y="322.3" class="lb" style="font-size:10px">28</text>
<text x="517.4" y="322.3" class="lb" style="font-size:10px">14</text>
<text x="502.2" y="342.9" class="lb">8</text>
<text x="476.5" y="342.8" class="lb">5</text>
<text x="478.6" y="361.9" class="lb">18-25</text>
<text x="555.35" y="371.6" class="lb">27</text>
<text x="356.75" y="370.8" class="lb">24</text>
<text x="321.85" y="383.4" class="lb">25</text>
<text x="338.7" y="393.8" class="lb">23</text>
<text x="373.1" y="380.8" class="lb">5</text>
<text x="433" y="381.3" class="lb">5</text>
<text x="408.3" y="407.1" class="lb">21</text>
<text x="418.55" y="417.2" class="lb">19</text>
<text x="402.2" y="437.4" class="lb">22</text>
<text x="412.15" y="452.8" class="lb">20</text>
<text x="423.3" y="462.6" class="lb">18</text>
<text x="380.5" y="440.4" class="lb">29</text>
<text x="356.75" y="450.2" class="lb">30</text>
<text x="441.5" y="477.7" class="lb">2</text>
<text x="289.5" y="495.4" class="lb">31</text>
<text x="377" y="505.9" class="lb">16</text>
</svg>
</body></html>
